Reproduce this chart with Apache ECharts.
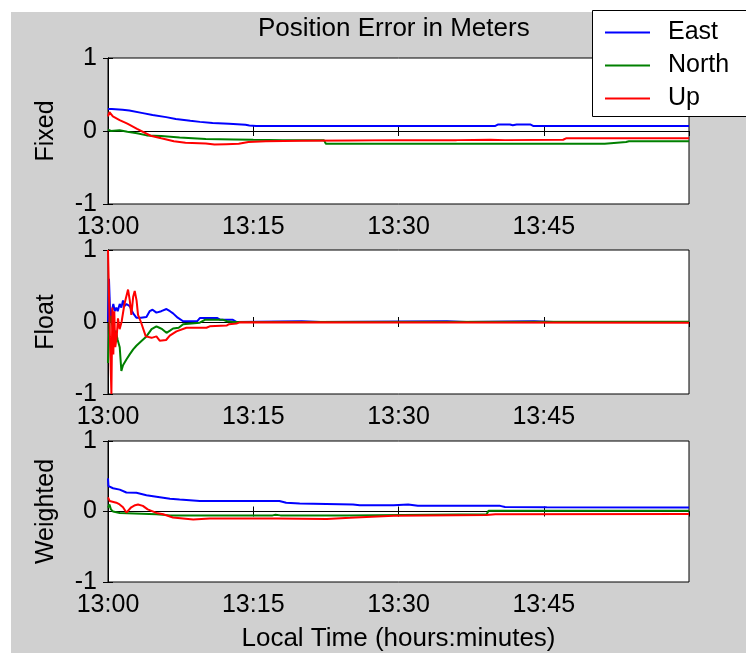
<!DOCTYPE html>
<html>
<head>
<meta charset="utf-8">
<script src="https://cdn.jsdelivr.net/npm/echarts@6/dist/echarts.min.js"></script>
<style>
html, body { margin: 0; padding: 0; background: #ffffff; }
#chart { width: 746px; height: 653px; }
</style>
</head>
<body>
<div id="chart"></div>
<script>
// Solution labels and component names
const panelNames = ['Fixed', 'Float', 'Weighted'];
const seriesNames = ['East', 'North', 'Up'];
const seriesColors = ['#0000ff', '#008000', '#ff0000'];

// Time axis: minutes after 13:00
const timeTicks = [0, 15, 30, 45];
const tickLabels = ['13:00', '13:15', '13:30', '13:45'];
const valueTicks = [-1, 0, 1];

// Position error (m) as [minute, value]
const fixedEast = [[0,0.30],[0.4,0.30],[1.5,0.29],[2.2,0.28],[3.6,0.245],[4.6,0.22],[6,0.19],[7,0.165],[8.5,0.14],[9.5,0.125],[10.8,0.11],[12.5,0.1],[14.2,0.085],[14.6,0.075],[15.3,0.07],[24.6,0.07],[24.8,0.055],[25,0.07],[40,0.07],[40.3,0.09],[41.5,0.09],[41.8,0.08],[42.2,0.09],[43.6,0.09],[43.9,0.07],[60,0.07]];
const fixedNorth = [[0,0.02],[0.3,0.0],[1.2,0.01],[2,-0.01],[3,-0.03],[4,-0.06],[5.5,-0.07],[7.4,-0.09],[10.1,-0.11],[13,-0.115],[15,-0.12],[18,-0.125],[22.3,-0.125],[22.5,-0.175],[51.3,-0.175],[51.5,-0.15],[53.5,-0.15],[53.8,-0.14],[60,-0.14]];
const fixedUp = [[0,0.2],[0.15,0.26],[0.5,0.2],[1.2,0.15],[2,0.1],[3,0.03],[4.4,-0.065],[5.5,-0.1],[6.8,-0.14],[8,-0.16],[10.1,-0.17],[11,-0.185],[12.2,-0.18],[13.5,-0.175],[14.5,-0.15],[16.3,-0.14],[20,-0.135],[25,-0.13],[30,-0.125],[36,-0.125],[39.5,-0.12],[41,-0.125],[47,-0.12],[47.3,-0.1],[51,-0.1],[58,-0.1],[60,-0.1]];

const floatEast = [[0,0],[0.1,0.6],[0.25,0.0],[0.4,0.15],[0.55,0.25],[0.7,0.15],[0.86,0.2],[1.0,0.15],[1.21,0.25],[1.38,0.2],[1.55,0.3],[1.7,0.22],[1.9,0.25],[2.24,0.22],[2.6,0.12],[2.93,0.06],[3.4,0.06],[3.97,0.07],[4.3,0.15],[4.6,0.17],[5.0,0.13],[5.5,0.15],[6.04,0.18],[6.4,0.15],[6.72,0.12],[7.2,0.06],[7.76,0.01],[9.2,0.01],[9.48,0.055],[11.3,0.055],[11.6,0.03],[12.9,0.03],[13.3,0.0],[20,0.01],[22,0],[35,0.01],[37,0],[44,0.01],[46,0],[60,0]];
const floatNorth = [[0,-0.57],[0.1,-0.2],[0.17,0.05],[0.3,0.08],[0.45,-0.05],[0.6,-0.2],[0.8,-0.12],[1.0,-0.25],[1.21,-0.35],[1.38,-0.68],[1.55,-0.6],[1.9,-0.52],[2.24,-0.45],[2.6,-0.38],[2.93,-0.33],[3.4,-0.27],[3.97,-0.2],[4.5,-0.1],[5.0,-0.06],[5.3,-0.08],[5.6,-0.1],[6.04,-0.15],[6.4,-0.12],[6.72,-0.09],[7.3,-0.08],[7.76,-0.03],[9.48,-0.01],[10,0.03],[11.9,0.03],[12.3,0.01],[12.9,0.0],[60,0.005]];
const floatUp = [[0,1.0],[0.2,-0.2],[0.35,-1.0],[0.45,0.2],[0.55,-0.45],[0.65,0.15],[0.75,-0.35],[0.9,-0.2],[1.03,0.05],[1.2,-0.1],[1.4,0.0],[1.7,0.25],[2.07,0.45],[2.25,0.3],[2.41,0.1],[2.6,0.35],[2.76,0.43],[2.95,0.3],[3.1,0.1],[3.4,0.0],[3.7,-0.12],[3.9,-0.2],[4.5,-0.22],[5.0,-0.2],[5.34,-0.26],[6.0,-0.25],[6.38,-0.19],[7.07,-0.13],[8.1,-0.08],[10.17,-0.08],[10.5,-0.06],[12.24,-0.05],[12.5,-0.03],[13.27,-0.02],[13.6,-0.005],[60,-0.01]];

const weightedEast = [[0,0.47],[0.05,0.36],[0.52,0.33],[1.21,0.31],[1.9,0.27],[2.93,0.265],[3.97,0.23],[5.0,0.21],[6.4,0.18],[7.4,0.17],[9.48,0.15],[17.7,0.15],[18.4,0.125],[19.8,0.115],[25.3,0.1],[26,0.09],[29.5,0.09],[31,0.1],[32,0.08],[40.5,0.08],[41,0.065],[45.3,0.06],[45.5,0.055],[60,0.055]];
const weightedNorth = [[0,0.056],[0.15,0.1],[0.3,0.03],[0.52,0.0],[1.21,-0.02],[5.0,-0.04],[6.4,-0.055],[17,-0.055],[17.3,-0.045],[17.8,-0.055],[24.7,-0.055],[24.9,-0.04],[39.1,-0.04],[39.3,0.01],[60,0.01]];
const weightedUp = [[0,0.2],[0.17,0.15],[0.86,0.125],[1.2,0.1],[1.55,0.06],[1.9,-0.015],[2.4,0.06],[2.8,0.09],[3.1,0.1],[3.6,0.08],[4.1,0.03],[5.0,-0.02],[5.7,-0.04],[6.7,-0.085],[8.8,-0.115],[10.5,-0.1],[12.2,-0.1],[17.4,-0.1],[22.6,-0.105],[25,-0.09],[29.5,-0.06],[39.1,-0.05],[40,-0.04],[60,-0.035]];

const panelData = [
  [fixedEast, fixedNorth, fixedUp],
  [floatEast, floatNorth, floatUp],
  [weightedEast, weightedNorth, weightedUp]
];

const FONT = '"Liberation Sans", Arial, Helvetica, sans-serif';
const gridBoxes = [
  { left: 108, top: 58, width: 581, height: 146 },
  { left: 108, top: 250, width: 581, height: 144 },
  { left: 108, top: 441, width: 581, height: 143 }
];

const tickFmt = v => {
  const i = timeTicks.indexOf(v);
  return i >= 0 ? tickLabels[i] : '';
};

const xAxes = [], yAxes = [], series = [];
panelNames.forEach((pname, i) => {
  const common = {
    type: 'value', gridIndex: i, min: 0, max: 60, interval: 15,
    axisLine: { show: true, lineStyle: { color: '#000', width: 1 } },
    axisTick: { show: true, inside: true, length: 5, lineStyle: { color: '#000' } },
    splitLine: { show: false }
  };
  xAxes.push(Object.assign({}, common, {
    position: 'bottom',
    axisLabel: { show: true, formatter: tickFmt, showMaxLabel: false, margin: 11,
      color: '#000', fontSize: 25, fontFamily: FONT },
    name: i === 2 ? 'Local Time (hours:minutes)' : '',
    nameLocation: 'middle', nameGap: 44,
    nameTextStyle: { color: '#000', fontSize: 26, fontFamily: FONT }
  }));
  xAxes.push(Object.assign({}, common, { position: 'top', axisLabel: { show: false } }));

  const ycommon = {
    type: 'value', gridIndex: i, min: -1, max: 1, interval: 1,
    axisLine: { show: true, lineStyle: { color: '#000', width: 1 } },
    axisTick: { show: true, inside: true, length: 5, lineStyle: { color: '#000' } },
    splitLine: { show: false }
  };
  yAxes.push(Object.assign({}, ycommon, {
    position: 'left',
    axisLabel: { show: true, margin: 11, color: '#000', fontSize: 25, fontFamily: FONT,
      formatter: v => valueTicks.indexOf(v) >= 0 ? String(v) : '' },
    name: pname, nameLocation: 'middle', nameGap: 49,
    nameTextStyle: { color: '#000', fontSize: 25, fontFamily: FONT }
  }));
  yAxes.push(Object.assign({}, ycommon, { position: 'right', axisLabel: { show: false } }));

  panelData[i].forEach((d, k) => {
    series.push({
      type: 'line', name: seriesNames[k], xAxisIndex: 2 * i, yAxisIndex: 2 * i,
      data: d, symbol: 'none', showSymbol: false,
      lineStyle: { color: seriesColors[k], width: 2 },
      itemStyle: { color: seriesColors[k] },
      emphasis: { disabled: true },
      z: 2
    });
  });
});

const chart = echarts.init(document.getElementById('chart'), null, { renderer: 'canvas' });
chart.setOption({
  animation: false,
  backgroundColor: '#ffffff',
  title: {
    text: 'Position Error in Meters', left: 258, top: 16, padding: 0,
    textStyle: { color: '#000', fontSize: 26, fontWeight: 'normal', fontFamily: FONT }
  },
  legend: {
    data: seriesNames, orient: 'vertical', left: 605, top: 20, padding: 0,
    icon: 'rect', itemWidth: 45, itemHeight: 2, itemGap: 8, selectedMode: false, z: 6,
    textStyle: { color: '#000', fontSize: 25, fontFamily: FONT, padding: [0, 0, 0, 13] }
  },
  graphic: [
    { type: 'rect', shape: { x: 11, y: 12, width: 735, height: 641 },
      style: { fill: '#d0d0d0' }, z: -10, silent: true },
    { type: 'rect', shape: { x: 592.5, y: 10.5, width: 200, height: 106 },
      style: { fill: '#ffffff', stroke: '#000', lineWidth: 1 }, z: 5, silent: true }
  ],
  grid: gridBoxes.map(g => Object.assign({ show: true, backgroundColor: '#ffffff',
    borderColor: '#000', borderWidth: 1, containLabel: false }, g)),
  xAxis: xAxes,
  yAxis: yAxes,
  series: series
});
</script>
</body>
</html>
